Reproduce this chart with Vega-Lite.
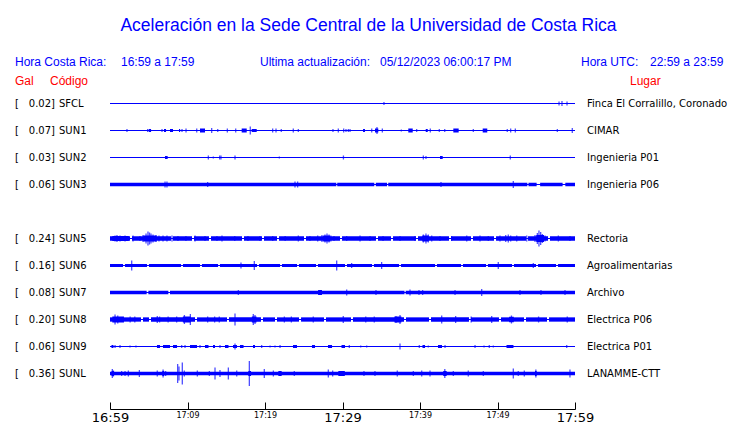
{
"$schema": "https://vega.github.io/schema/vega-lite/v6.json",
"width": 465, "height": 373,
"autosize": {"type": "none"},
"padding": {"left": 110, "top": 36, "right": 165, "bottom": 14},
"background": "white",
"config": {"view": {"stroke": null}, "font": "DejaVu Sans"},
"title": {"text": "Aceleración en la Sede Central de la Universidad de Costa Rica", "font": "Liberation Sans", "fontSize": 17.5, "fontWeight": "normal", "color": "#0000ff", "anchor": "middle", "dx": 26, "dy": 20, "offset": 7.5, "baseline": "alphabetic"},
"datasets": {
"stations": [
{"s":"SFCL","g":0.02,"place":"Finca El Corralillo, Coronado"},
{"s":"SUN1","g":0.07,"place":"CIMAR"},
{"s":"SUN2","g":0.03,"place":"Ingenieria P01"},
{"s":"SUN3","g":0.06,"place":"Ingenieria P06"},
{"s":"SUN5","g":0.24,"place":"Rectoria"},
{"s":"SUN6","g":0.16,"place":"Agroalimentarias"},
{"s":"SUN7","g":0.08,"place":"Archivo"},
{"s":"SUN8","g":0.20,"place":"Electrica P06"},
{"s":"SUN9","g":0.06,"place":"Electrica P01"},
{"s":"SUNL","g":0.36,"place":"LANAMME-CTT"}
],
"bands": [
{"s":"SFCL","t0":0,"t1":60,"a":1},
{"s":"SUN1","t0":0,"t1":60,"a":1},
{"s":"SUN1","t0":5.0,"t1":5.3,"a":3},{"s":"SUN1","t0":6.97,"t1":7.23,"a":3},{"s":"SUN1","t0":7.74,"t1":8.13,"a":3},{"s":"SUN1","t0":8.9,"t1":9.05,"a":3},{"s":"SUN1","t0":11.61,"t1":12.26,"a":4},{"s":"SUN1","t0":16.99,"t1":17.64,"a":4},{"s":"SUN1","t0":18.28,"t1":18.93,"a":3},{"s":"SUN1","t0":32.65,"t1":32.9,"a":3},{"s":"SUN1","t0":34.19,"t1":34.62,"a":4},{"s":"SUN1","t0":38.49,"t1":39.06,"a":4},{"s":"SUN1","t0":40.74,"t1":41.0,"a":3},{"s":"SUN1","t0":44.3,"t1":44.99,"a":4},{"s":"SUN1","t0":48.09,"t1":48.68,"a":4},
{"s":"SUN2","t0":0,"t1":60,"a":1},
{"s":"SUN2","t0":7.1,"t1":7.44,"a":3},{"s":"SUN2","t0":42.58,"t1":42.93,"a":3},
{"s":"SUN3","t0":0,"t1":60,"a":1},
{"s":"SUN3","t0":0,"t1":29.2,"a":3.5},{"s":"SUN3","t0":29.32,"t1":34.1,"a":3.5},{"s":"SUN3","t0":34.3,"t1":35.75,"a":3.5},{"s":"SUN3","t0":35.9,"t1":53.85,"a":3.5},{"s":"SUN3","t0":54.0,"t1":55.05,"a":3.5},{"s":"SUN3","t0":55.5,"t1":58.4,"a":3.5},{"s":"SUN3","t0":58.75,"t1":60,"a":3.5},
{"s":"SUN5","t0":0,"t1":60,"a":1},
{"s":"SUN5","t0":0,"t1":2.58,"a":4.5},{"s":"SUN5","t0":2.84,"t1":7.87,"a":4.5},{"s":"SUN5","t0":8.13,"t1":10.58,"a":4.5},{"s":"SUN5","t0":10.84,"t1":12.77,"a":4.5},{"s":"SUN5","t0":13.03,"t1":17.03,"a":4.5},{"s":"SUN5","t0":17.29,"t1":19.61,"a":4.5},{"s":"SUN5","t0":19.87,"t1":21.55,"a":4.5},{"s":"SUN5","t0":21.81,"t1":25.03,"a":4.5},{"s":"SUN5","t0":25.29,"t1":29.68,"a":4.5},{"s":"SUN5","t0":29.94,"t1":34.32,"a":4.5},{"s":"SUN5","t0":34.58,"t1":36.26,"a":4.5},{"s":"SUN5","t0":36.52,"t1":39.48,"a":4.5},{"s":"SUN5","t0":39.74,"t1":43.74,"a":4.5},{"s":"SUN5","t0":44.0,"t1":46.58,"a":4.5},{"s":"SUN5","t0":46.84,"t1":49.55,"a":4.5},{"s":"SUN5","t0":49.81,"t1":53.68,"a":4.5},{"s":"SUN5","t0":53.94,"t1":56.52,"a":4.5},{"s":"SUN5","t0":56.77,"t1":60,"a":4.5},
{"s":"SUN5","t0":0.3,"t1":2.4,"a":5},{"s":"SUN5","t0":4.3,"t1":6.0,"a":6},{"s":"SUN5","t0":27.5,"t1":28.4,"a":6},{"s":"SUN5","t0":40.3,"t1":41.1,"a":6},{"s":"SUN5","t0":55.0,"t1":56.0,"a":7},
{"s":"SUN6","t0":0,"t1":60,"a":1},
{"s":"SUN6","t0":0,"t1":1.68,"a":3},{"s":"SUN6","t0":1.94,"t1":4.77,"a":3},{"s":"SUN6","t0":5.03,"t1":9.16,"a":3},{"s":"SUN6","t0":9.42,"t1":11.61,"a":3},{"s":"SUN6","t0":11.87,"t1":13.94,"a":3},{"s":"SUN6","t0":14.19,"t1":18.97,"a":3},{"s":"SUN6","t0":19.23,"t1":21.94,"a":3},{"s":"SUN6","t0":22.19,"t1":24.13,"a":3},{"s":"SUN6","t0":24.39,"t1":26.58,"a":3},{"s":"SUN6","t0":26.84,"t1":30.32,"a":3},{"s":"SUN6","t0":30.58,"t1":33.81,"a":3},{"s":"SUN6","t0":34.06,"t1":37.29,"a":3},{"s":"SUN6","t0":37.55,"t1":41.94,"a":3},{"s":"SUN6","t0":42.19,"t1":45.29,"a":3},{"s":"SUN6","t0":45.55,"t1":48.52,"a":3},{"s":"SUN6","t0":48.77,"t1":51.87,"a":3},{"s":"SUN6","t0":52.13,"t1":54.97,"a":3},{"s":"SUN6","t0":55.23,"t1":57.55,"a":3},{"s":"SUN6","t0":57.81,"t1":60,"a":3},
{"s":"SUN7","t0":0,"t1":60,"a":1},
{"s":"SUN7","t0":0,"t1":4.73,"a":3.5},{"s":"SUN7","t0":4.95,"t1":7.53,"a":3.5},{"s":"SUN7","t0":7.74,"t1":38.0,"a":3.5},{"s":"SUN7","t0":38.15,"t1":60,"a":3.5},{"s":"SUN7","t0":26.85,"t1":27.35,"a":5},
{"s":"SUN8","t0":0,"t1":60,"a":1},
{"s":"SUN8","t0":0,"t1":4.0,"a":4.3},{"s":"SUN8","t0":4.26,"t1":5.03,"a":4.3},{"s":"SUN8","t0":5.29,"t1":10.97,"a":4.3},{"s":"SUN8","t0":11.23,"t1":15.1,"a":4.3},{"s":"SUN8","t0":15.35,"t1":19.48,"a":4.3},{"s":"SUN8","t0":19.74,"t1":21.29,"a":4.3},{"s":"SUN8","t0":21.55,"t1":24.39,"a":4.3},{"s":"SUN8","t0":24.65,"t1":27.61,"a":4.3},{"s":"SUN8","t0":27.87,"t1":31.1,"a":4.3},{"s":"SUN8","t0":31.35,"t1":37.94,"a":4.3},{"s":"SUN8","t0":38.19,"t1":41.16,"a":4.3},{"s":"SUN8","t0":41.42,"t1":46.32,"a":4.3},{"s":"SUN8","t0":46.58,"t1":50.19,"a":4.3},{"s":"SUN8","t0":50.45,"t1":53.42,"a":4.3},{"s":"SUN8","t0":53.68,"t1":56.39,"a":4.3},{"s":"SUN8","t0":56.65,"t1":60,"a":4.3},
{"s":"SUN8","t0":0.3,"t1":1.8,"a":6},{"s":"SUN8","t0":9.4,"t1":10.4,"a":6},{"s":"SUN8","t0":18.3,"t1":18.9,"a":6},{"s":"SUN8","t0":36.7,"t1":37.6,"a":6},{"s":"SUN8","t0":51.5,"t1":52.1,"a":5.5},
{"s":"SUN9","t0":0,"t1":60,"a":1},
{"s":"SUN9","t0":0.19,"t1":0.45,"a":3},{"s":"SUN9","t0":6.06,"t1":6.45,"a":3},{"s":"SUN9","t0":6.84,"t1":7.74,"a":3},{"s":"SUN9","t0":8.13,"t1":8.65,"a":3},{"s":"SUN9","t0":10.32,"t1":11.23,"a":3},{"s":"SUN9","t0":12.26,"t1":12.71,"a":3},{"s":"SUN9","t0":13.29,"t1":13.55,"a":3},{"s":"SUN9","t0":14.84,"t1":15.29,"a":3},{"s":"SUN9","t0":15.87,"t1":16.39,"a":3},{"s":"SUN9","t0":16.77,"t1":17.23,"a":3},{"s":"SUN9","t0":18.45,"t1":18.71,"a":3},{"s":"SUN9","t0":23.61,"t1":24.13,"a":3},{"s":"SUN9","t0":26.06,"t1":26.45,"a":3},{"s":"SUN9","t0":28.13,"t1":28.65,"a":3},{"s":"SUN9","t0":29.87,"t1":30.32,"a":3},{"s":"SUN9","t0":40.32,"t1":40.65,"a":3},{"s":"SUN9","t0":42.32,"t1":42.84,"a":3},{"s":"SUN9","t0":51.16,"t1":52.06,"a":3},
{"s":"SUNL","t0":0,"t1":60,"a":3.5},
{"s":"SUNL","t0":0.2,"t1":0.5,"a":5},{"s":"SUNL","t0":6.75,"t1":7.0,"a":5},{"s":"SUNL","t0":17.85,"t1":18.2,"a":5},{"s":"SUNL","t0":21.72,"t1":22.15,"a":5},{"s":"SUNL","t0":29.46,"t1":30.3,"a":5},{"s":"SUNL","t0":43.0,"t1":43.44,"a":5},{"s":"SUNL","t0":54.84,"t1":55.05,"a":5}
],
"spikes": [
{"s":"SFCL","t":35.35,"a":3},{"s":"SFCL","t":57.94,"a":4},{"s":"SFCL","t":58.32,"a":5},{"s":"SFCL","t":58.97,"a":4},
{"s":"SUN1","t":2.19,"a":3},{"s":"SUN1","t":4.86,"a":3},{"s":"SUN1","t":6.71,"a":3},{"s":"SUN1","t":9.29,"a":3},{"s":"SUN1","t":9.81,"a":4},{"s":"SUN1","t":11.19,"a":4},{"s":"SUN1","t":13.12,"a":5},{"s":"SUN1","t":13.9,"a":3},{"s":"SUN1","t":15.14,"a":4},{"s":"SUN1","t":16.22,"a":4},{"s":"SUN1","t":18.1,"a":8},{"s":"SUN1","t":20.99,"a":4},{"s":"SUN1","t":21.42,"a":4},{"s":"SUN1","t":22.1,"a":3},{"s":"SUN1","t":23.65,"a":4},{"s":"SUN1","t":24.3,"a":3},{"s":"SUN1","t":28.77,"a":3},{"s":"SUN1","t":29.46,"a":4},{"s":"SUN1","t":30.15,"a":4},{"s":"SUN1","t":30.45,"a":3},{"s":"SUN1","t":30.75,"a":3},{"s":"SUN1","t":30.97,"a":3},{"s":"SUN1","t":33.77,"a":4},{"s":"SUN1","t":34.45,"a":7},{"s":"SUN1","t":35.14,"a":4},{"s":"SUN1","t":37.59,"a":2},{"s":"SUN1","t":39.57,"a":3},{"s":"SUN1","t":41.33,"a":4},{"s":"SUN1","t":42.49,"a":3},{"s":"SUN1","t":43.19,"a":3},{"s":"SUN1","t":46.88,"a":3},{"s":"SUN1","t":51.26,"a":3},{"s":"SUN1","t":51.7,"a":4},{"s":"SUN1","t":52.3,"a":4},{"s":"SUN1","t":57.72,"a":3},{"s":"SUN1","t":59.65,"a":5},
{"s":"SUN2","t":12.69,"a":4},{"s":"SUN2","t":13.33,"a":2},{"s":"SUN2","t":14.15,"a":4},{"s":"SUN2","t":14.32,"a":4},{"s":"SUN2","t":16.13,"a":4},{"s":"SUN2","t":21.85,"a":2},{"s":"SUN2","t":30.12,"a":4},{"s":"SUN2","t":40.43,"a":4},{"s":"SUN2","t":40.77,"a":3},{"s":"SUN2","t":51.65,"a":4},
{"s":"SUN3","t":7.1,"a":6},{"s":"SUN3","t":7.35,"a":6},{"s":"SUN3","t":12.6,"a":5},{"s":"SUN3","t":23.87,"a":6},{"s":"SUN3","t":24.21,"a":6},{"s":"SUN3","t":42.71,"a":5},{"s":"SUN3","t":52.04,"a":7},
{"s":"SUN5","t":0.65,"a":6},{"s":"SUN5","t":0.9,"a":7},{"s":"SUN5","t":1.29,"a":6},{"s":"SUN5","t":1.94,"a":6},{"s":"SUN5","t":2.32,"a":5},{"s":"SUN5","t":2.97,"a":6},{"s":"SUN5","t":3.87,"a":5},{"s":"SUN5","t":4.26,"a":7},{"s":"SUN5","t":4.65,"a":10},{"s":"SUN5","t":4.9,"a":14},{"s":"SUN5","t":5.1,"a":12},{"s":"SUN5","t":5.29,"a":10},{"s":"SUN5","t":5.55,"a":8},{"s":"SUN5","t":5.94,"a":7},{"s":"SUN5","t":6.32,"a":6},{"s":"SUN5","t":6.84,"a":6},{"s":"SUN5","t":7.35,"a":6},{"s":"SUN5","t":8.0,"a":6},{"s":"SUN5","t":8.77,"a":5},{"s":"SUN5","t":9.8,"a":5},{"s":"SUN5","t":10.97,"a":6},{"s":"SUN5","t":12.26,"a":5},{"s":"SUN5","t":13.8,"a":5},{"s":"SUN5","t":14.45,"a":6},{"s":"SUN5","t":16.1,"a":5},{"s":"SUN5","t":17.8,"a":5},{"s":"SUN5","t":19.35,"a":5},{"s":"SUN5","t":21.0,"a":5},{"s":"SUN5","t":22.6,"a":5},{"s":"SUN5","t":24.3,"a":6},{"s":"SUN5","t":25.8,"a":5},{"s":"SUN5","t":26.8,"a":6},{"s":"SUN5","t":27.35,"a":7},{"s":"SUN5","t":27.74,"a":8},{"s":"SUN5","t":28.0,"a":10},{"s":"SUN5","t":28.26,"a":8},{"s":"SUN5","t":28.5,"a":6},{"s":"SUN5","t":28.9,"a":5},{"s":"SUN5","t":30.54,"a":5},{"s":"SUN5","t":32.26,"a":6},{"s":"SUN5","t":33.55,"a":5},{"s":"SUN5","t":35.23,"a":5},{"s":"SUN5","t":37.42,"a":5},{"s":"SUN5","t":39.35,"a":5},{"s":"SUN5","t":40.43,"a":8},{"s":"SUN5","t":40.77,"a":10},{"s":"SUN5","t":41.07,"a":8},{"s":"SUN5","t":41.51,"a":6},{"s":"SUN5","t":42.58,"a":5},{"s":"SUN5","t":44.09,"a":5},{"s":"SUN5","t":46.03,"a":6},{"s":"SUN5","t":47.74,"a":6},{"s":"SUN5","t":48.81,"a":5},{"s":"SUN5","t":50.32,"a":6},{"s":"SUN5","t":51.06,"a":7},{"s":"SUN5","t":51.39,"a":8},{"s":"SUN5","t":51.7,"a":6},{"s":"SUN5","t":52.48,"a":6},{"s":"SUN5","t":53.77,"a":6},{"s":"SUN5","t":54.84,"a":7},{"s":"SUN5","t":55.14,"a":11},{"s":"SUN5","t":55.35,"a":16},{"s":"SUN5","t":55.57,"a":13},{"s":"SUN5","t":55.78,"a":9},{"s":"SUN5","t":56.13,"a":6},{"s":"SUN5","t":57.85,"a":6},{"s":"SUN5","t":59.35,"a":5},
{"s":"SUN6","t":2.8,"a":10},{"s":"SUN6","t":16.9,"a":6},{"s":"SUN6","t":18.62,"a":9},{"s":"SUN6","t":29.25,"a":10},{"s":"SUN6","t":31.18,"a":5},{"s":"SUN6","t":35.05,"a":7},{"s":"SUN6","t":50.1,"a":7},{"s":"SUN6","t":54.62,"a":5},
{"s":"SUN7","t":16.56,"a":5},{"s":"SUN7","t":30.54,"a":6},{"s":"SUN7","t":34.32,"a":5},{"s":"SUN7","t":38.71,"a":6},{"s":"SUN7","t":39.87,"a":5},{"s":"SUN7","t":40.34,"a":5},{"s":"SUN7","t":44.52,"a":5},{"s":"SUN7","t":47.96,"a":7},{"s":"SUN7","t":52.9,"a":5},{"s":"SUN7","t":55.61,"a":5},{"s":"SUN7","t":58.71,"a":5},
{"s":"SUN8","t":0.65,"a":10},{"s":"SUN8","t":1.0,"a":8},{"s":"SUN8","t":2.6,"a":6},{"s":"SUN8","t":3.2,"a":6},{"s":"SUN8","t":6.1,"a":7},{"s":"SUN8","t":6.4,"a":6},{"s":"SUN8","t":7.5,"a":6},{"s":"SUN8","t":8.6,"a":6},{"s":"SUN8","t":9.6,"a":9},{"s":"SUN8","t":10.37,"a":11},{"s":"SUN8","t":12.6,"a":6},{"s":"SUN8","t":13.5,"a":6},{"s":"SUN8","t":14.1,"a":6},{"s":"SUN8","t":16.13,"a":12},{"s":"SUN8","t":18.49,"a":11},{"s":"SUN8","t":18.71,"a":9},{"s":"SUN8","t":22.5,"a":6},{"s":"SUN8","t":23.4,"a":6},{"s":"SUN8","t":26.23,"a":6},{"s":"SUN8","t":30.1,"a":7},{"s":"SUN8","t":33.0,"a":6},{"s":"SUN8","t":34.1,"a":6},{"s":"SUN8","t":36.9,"a":7},{"s":"SUN8","t":37.42,"a":9},{"s":"SUN8","t":42.8,"a":8},{"s":"SUN8","t":44.6,"a":7},{"s":"SUN8","t":46.6,"a":6},{"s":"SUN8","t":49.25,"a":7},{"s":"SUN8","t":51.8,"a":8},{"s":"SUN8","t":55.3,"a":6},{"s":"SUN8","t":59.0,"a":6},
{"s":"SUN9","t":0.65,"a":3},{"s":"SUN9","t":1.29,"a":3},{"s":"SUN9","t":2.58,"a":2},{"s":"SUN9","t":3.35,"a":2},{"s":"SUN9","t":9.25,"a":3},{"s":"SUN9","t":9.68,"a":3},{"s":"SUN9","t":11.61,"a":3},{"s":"SUN9","t":14.19,"a":3},{"s":"SUN9","t":16.13,"a":6},{"s":"SUN9","t":19.57,"a":3},{"s":"SUN9","t":20.65,"a":2},{"s":"SUN9","t":21.29,"a":2},{"s":"SUN9","t":21.94,"a":3},{"s":"SUN9","t":30.88,"a":3},{"s":"SUN9","t":32.35,"a":2},{"s":"SUN9","t":33.12,"a":2},{"s":"SUN9","t":37.42,"a":6},{"s":"SUN9","t":39.91,"a":3},{"s":"SUN9","t":41.07,"a":2},{"s":"SUN9","t":43.23,"a":3},{"s":"SUN9","t":47.1,"a":3},{"s":"SUN9","t":48.26,"a":2},{"s":"SUN9","t":48.94,"a":3},{"s":"SUN9","t":49.46,"a":2},{"s":"SUN9","t":58.93,"a":3},
{"s":"SUNL","t":0.3,"a":9},{"s":"SUNL","t":0.45,"a":6},{"s":"SUNL","t":1.5,"a":5},{"s":"SUNL","t":1.94,"a":5},{"s":"SUNL","t":2.37,"a":6},{"s":"SUNL","t":3.79,"a":7},{"s":"SUNL","t":6.1,"a":6},{"s":"SUNL","t":6.85,"a":8},{"s":"SUNL","t":7.18,"a":5},{"s":"SUNL","t":8.73,"a":19},{"s":"SUNL","t":8.9,"a":14},{"s":"SUNL","t":9.33,"a":22},{"s":"SUNL","t":9.59,"a":6},{"s":"SUNL","t":11.27,"a":6},{"s":"SUNL","t":12.82,"a":5},{"s":"SUNL","t":13.55,"a":12},{"s":"SUNL","t":14.19,"a":7},{"s":"SUNL","t":15.27,"a":12},{"s":"SUNL","t":16.35,"a":6},{"s":"SUNL","t":17.98,"a":25},{"s":"SUNL","t":19.91,"a":9},{"s":"SUNL","t":21.08,"a":6},{"s":"SUNL","t":23.78,"a":5},{"s":"SUNL","t":28.17,"a":8},{"s":"SUNL","t":28.73,"a":6},{"s":"SUNL","t":32.77,"a":5},{"s":"SUNL","t":34.19,"a":5},{"s":"SUNL","t":37.07,"a":6},{"s":"SUNL","t":39.14,"a":5},{"s":"SUNL","t":40.22,"a":6},{"s":"SUNL","t":41.29,"a":6},{"s":"SUNL","t":43.2,"a":9},{"s":"SUNL","t":44.3,"a":5},{"s":"SUNL","t":46.23,"a":6},{"s":"SUNL","t":48.17,"a":5},{"s":"SUNL","t":52.04,"a":10},{"s":"SUNL","t":52.68,"a":5},{"s":"SUNL","t":53.46,"a":6},{"s":"SUNL","t":54.95,"a":8},{"s":"SUNL","t":59.35,"a":8}
],
"note": [{}]
},
"layer": [
{"data": {"name": "bands"},
 "mark": {"type": "bar", "color": "#0000ff"},
 "encoding": {
  "x": {"field": "t0", "type": "quantitative", "scale": {"domain": [0, 60], "nice": false, "zero": false},
   "axis": {"values": [0,5,10,15,20,25,30,35,40,45,50,55,60], "title": null, "grid": false, "domainColor": "#000000", "tickColor": "#000000", "tickSize": -7, "tickWidth": 1, "domainWidth": 1, "labelColor": "#000000", "labelFont": "DejaVu Sans",
    "labelFontSize": {"condition": {"test": "datum.value % 30 == 0", "value": 13}, "value": 8},
    "labelExpr": "datum.value % 10 ? '' : floor((1019 + datum.value) / 60) + ':' + ((1019 + datum.value) % 60 < 10 ? '0' : '') + ((1019 + datum.value) % 60)",
    "labelFlush": false, "labelOverlap": false, "labelBound": false, "labelPadding": 9}},
  "x2": {"field": "t1"},
  "y": {"field": "s", "type": "nominal", "axis": null, "scale": {"type": "band", "domain": ["H1","H2","SFCL","SUN1","SUN2","SUN3","SUN4","SUN5","SUN6","SUN7","SUN8","SUN9","SUNL"], "paddingInner": 0, "paddingOuter": 0.4074, "align": 0}},
  "size": {"field": "a", "type": "quantitative", "scale": {"domain": [0, 30], "range": [0, 30]}, "legend": null}
 }},
{"data": {"name": "spikes"},
 "mark": {"type": "tick", "color": "#0000ff", "thickness": 1.3, "orient": "vertical"},
 "encoding": {
  "x": {"field": "t", "type": "quantitative"},
  "y": {"field": "s", "type": "nominal"},
  "size": {"field": "a", "type": "quantitative", "scale": {"domain": [0, 30], "range": [0, 30]}, "legend": null}
 }},
{"data": {"name": "stations"},
 "mark": {"type": "text", "text": "[", "align": "left", "dx": -95, "font": "DejaVu Sans", "fontSize": 10, "color": "#000000"},
 "encoding": {"x": {"datum": 0, "type": "quantitative"}, "y": {"field": "s", "type": "nominal"}}},
{"data": {"name": "stations"},
 "transform": [{"calculate": "format(datum.g, '.2f') + ']'", "as": "gl"}],
 "mark": {"type": "text", "align": "right", "dx": -55, "font": "DejaVu Sans", "fontSize": 10, "color": "#000000"},
 "encoding": {"x": {"datum": 0, "type": "quantitative"}, "y": {"field": "s", "type": "nominal"}, "text": {"field": "gl"}}},
{"data": {"name": "stations"},
 "mark": {"type": "text", "align": "left", "dx": -51, "font": "DejaVu Sans", "fontSize": 10, "color": "#000000"},
 "encoding": {"x": {"datum": 0, "type": "quantitative"}, "y": {"field": "s", "type": "nominal"}, "text": {"field": "s"}}},
{"data": {"name": "stations"},
 "mark": {"type": "text", "align": "left", "dx": 12, "font": "DejaVu Sans", "fontSize": 10, "color": "#000000"},
 "encoding": {"x": {"datum": 60, "type": "quantitative"}, "y": {"field": "s", "type": "nominal"}, "text": {"field": "place"}}},
{"data": {"name": "note"},
 "mark": {"type": "text", "text": "Hora Costa Rica:", "align": "left", "dx": -95, "dy": 12, "font": "Liberation Sans", "fontSize": 12, "color": "#0000ff"},
 "encoding": {"x": {"datum": 0, "type": "quantitative"}, "y": {"datum": "H1", "type": "nominal"}}},
{"data": {"name": "note"},
 "mark": {"type": "text", "text": "16:59 a 17:59", "align": "left", "dx": 11, "dy": 12, "font": "Liberation Sans", "fontSize": 12, "color": "#0000ff"},
 "encoding": {"x": {"datum": 0, "type": "quantitative"}, "y": {"datum": "H1", "type": "nominal"}}},
{"data": {"name": "note"},
 "mark": {"type": "text", "text": "Ultima actualización:", "align": "left", "dx": 150, "dy": 12, "font": "Liberation Sans", "fontSize": 12, "color": "#0000ff"},
 "encoding": {"x": {"datum": 0, "type": "quantitative"}, "y": {"datum": "H1", "type": "nominal"}}},
{"data": {"name": "note"},
 "mark": {"type": "text", "text": "05/12/2023 06:00:17 PM", "align": "left", "dx": 270, "dy": 12, "font": "Liberation Sans", "fontSize": 12, "color": "#0000ff"},
 "encoding": {"x": {"datum": 0, "type": "quantitative"}, "y": {"datum": "H1", "type": "nominal"}}},
{"data": {"name": "note"},
 "mark": {"type": "text", "text": "Hora UTC:", "align": "left", "dx": 6, "dy": 12, "font": "Liberation Sans", "fontSize": 12, "color": "#0000ff"},
 "encoding": {"x": {"datum": 60, "type": "quantitative"}, "y": {"datum": "H1", "type": "nominal"}}},
{"data": {"name": "note"},
 "mark": {"type": "text", "text": "22:59 a 23:59", "align": "left", "dx": 75, "dy": 12, "font": "Liberation Sans", "fontSize": 12, "color": "#0000ff"},
 "encoding": {"x": {"datum": 60, "type": "quantitative"}, "y": {"datum": "H1", "type": "nominal"}}},
{"data": {"name": "note"},
 "mark": {"type": "text", "text": "Gal", "align": "left", "dx": -95, "dy": 4, "font": "Liberation Sans", "fontSize": 12, "color": "#ff0000"},
 "encoding": {"x": {"datum": 0, "type": "quantitative"}, "y": {"datum": "H2", "type": "nominal"}}},
{"data": {"name": "note"},
 "mark": {"type": "text", "text": "Código", "align": "left", "dx": -60, "dy": 4, "font": "Liberation Sans", "fontSize": 12, "color": "#ff0000"},
 "encoding": {"x": {"datum": 0, "type": "quantitative"}, "y": {"datum": "H2", "type": "nominal"}}},
{"data": {"name": "note"},
 "mark": {"type": "text", "text": "Lugar", "align": "left", "dx": 55, "dy": 4, "font": "Liberation Sans", "fontSize": 12, "color": "#ff0000"},
 "encoding": {"x": {"datum": 60, "type": "quantitative"}, "y": {"datum": "H2", "type": "nominal"}}}
]
}
